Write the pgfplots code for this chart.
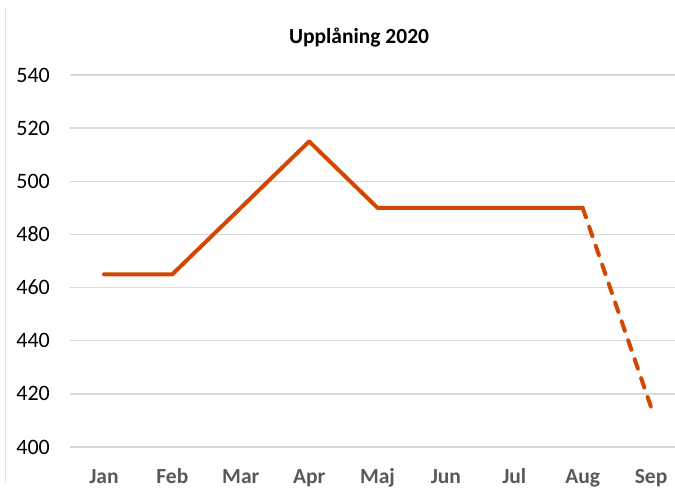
\documentclass[border=0pt]{standalone}
\usepackage{fontspec}
\setmainfont{Carlito}
\usepackage{pgfplots}
\pgfplotsset{compat=1.18}
\definecolor{lineorange}{RGB}{210,72,2}
\definecolor{gridgray}{RGB}{217,217,217}
\definecolor{labgray}{RGB}{89,89,89}
\begin{document}
\begin{tikzpicture}[x=1pt,y=1pt]
\useasboundingbox (0,0) rectangle (675,490);
\draw[gridgray!70, line width=0.8pt] (5.5,7) -- (5.5,482);
\node[font=\fontsize{21.5}{25}\selectfont\bfseries, anchor=base] at (359,446) {Upplåning 2020};
\begin{axis}[
  at={(70pt,43pt)}, anchor=south west,
  scale only axis, width=605pt, height=372pt,
  xmin=-0.497, xmax=8.35, ymin=400, ymax=540,
  axis line style={draw=none},
  xtick={0,1,2,3,4,5,6,7,8},
  xticklabels={Jan,Feb,Mar,Apr,Maj,Jun,Jul,Aug,Sep},
  ytick={400,420,440,460,480,500,520,540},
  major tick length=0pt,
  ymajorgrids, grid style={gridgray, line width=1.3pt},
  /pgf/number format/assume math mode=true,
  yticklabel style={font=\fontsize{22}{26}\selectfont, inner sep=0pt, anchor=east, xshift=-20pt},
  xticklabel style={font=\fontsize{21.5}{25}\selectfont\bfseries, text=labgray, inner sep=0pt, anchor=base, yshift=-36pt},
]
\addplot[lineorange, line width=4pt, line join=round, line cap=round] coordinates {
  (0,465) (1,465) (2,490) (3,515) (4,490) (5,490) (6,490) (7,490)
};
\addplot[lineorange, line width=4pt, line cap=round, dash pattern=on 10pt off 10pt] coordinates {
  (7,490) (8,415)
};
\end{axis}
\end{tikzpicture}
\end{document}
